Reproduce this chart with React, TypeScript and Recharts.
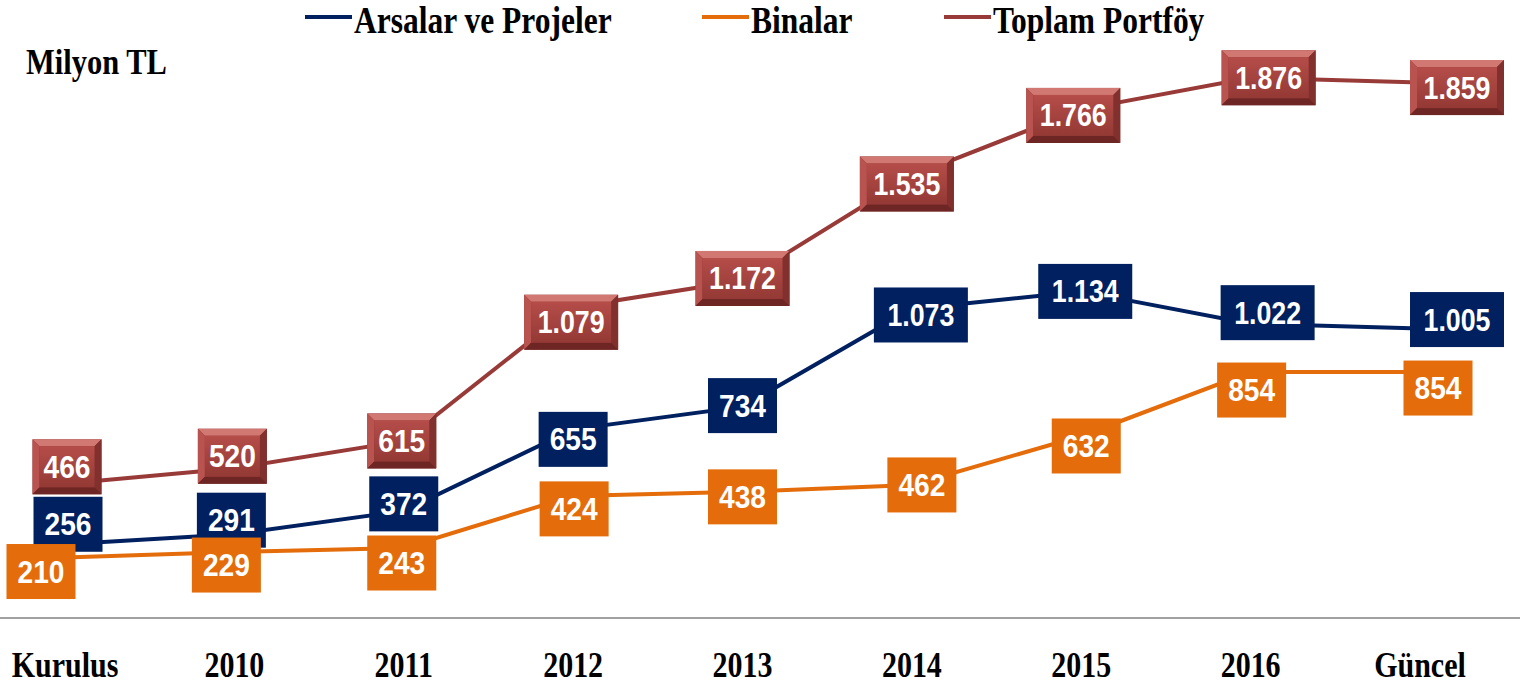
import { LineChart, Line, XAxis, YAxis, LabelList } from "recharts";

const categories = ["Kurulus", "2010", "2011", "2012", "2013", "2014", "2015", "2016", "Güncel"];
const arsalar = [256, 291, 372, 655, 734, 1073, 1134, 1022, 1005];
const binalar = [210, 229, 243, 424, 438, 462, 632, 854, 854];
const toplam = [466, 520, 615, 1079, 1172, 1535, 1766, 1876, 1859];

// hand-placed label nudges [dx, dy], as in the original slide
const arsalarShift = [[3, -20], [-3, -14], [0, -7], [0, 10], [0, -1], [9, 6], [4, 0], [17, -11], [37, -9]];
const binalarShift = [[-24, 14], [-8, 13], [-2, 15], [1, 13], [0, 5], [10, 0], [5, 10], [1, 18], [18, 16]];
const toplamShift = [[2, -17], [-2, -12], [-2, 0], [-2, 15], [0, -2], [-5, 8], [-8, 6], [18, 0], [37, 5]];

const data = categories.map((name, i) => ({
  name,
  arsalar: arsalar[i],
  binalar: binalar[i],
  toplam: toplam[i],
}));

const NAVY = "#002060";
const ORANGE = "#E46C0A";
const RED = "#983a37";
const SERIF = "'Liberation Serif', 'Times New Roman', serif";
const NUM_FONT = "'Liberation Sans Narrow', 'Liberation Sans', Arial, sans-serif";

// 1079 -> "1.079"
const fmt = (v: number) =>
  v >= 1000 ? `${Math.floor(v / 1000)}.${String(v % 1000).padStart(3, "0")}` : String(v);

function BoxLabel(props: any) {
  const { x, y, value, index, fill, shift, bevel } = props;
  const [dx, dy] = shift[index] || [0, 0];
  const text = fmt(value);
  const long = text.length > 3;
  const w = long ? 94 : 69;
  const h = 55;
  const cx = x + dx;
  const cy = y + dy;
  const l = cx - w / 2;
  const t = cy - h / 2;
  const r = l + w;
  const b = t + h;
  const e = 7;
  return (
    <g>
      {bevel ? (
        <g>
          <rect x={l} y={t} width={w} height={h} fill="#8a3230" />
          <polygon points={`${l},${t} ${r},${t} ${r - e},${t + e} ${l + e},${t + e}`} fill="#d27873" />
          <polygon points={`${l},${t} ${l + e},${t + e} ${l + e},${b - e} ${l},${b}`} fill="#b9534f" />
          <polygon points={`${r},${t} ${r},${b} ${r - e},${b - e} ${r - e},${t + e}`} fill="#82302d" />
          <polygon points={`${l},${b} ${l + e},${b - e} ${r - e},${b - e} ${r},${b}`} fill="#6e2624" />
          <rect x={l + e} y={t + e} width={w - 2 * e} height={h - 2 * e} fill="url(#redFace)" />
        </g>
      ) : (
        <rect x={l} y={t} width={w} height={h} fill={fill} />
      )}
      <text
        x={cx}
        y={cy + 11}
        textAnchor="middle"
        fill="#fff"
        fontFamily={NUM_FONT}
        fontWeight="bold"
        fontSize={31}
        textLength={long ? 67 : 47}
        lengthAdjust="spacingAndGlyphs"
      >
        {text}
      </text>
    </g>
  );
}

function CategoryTick({ x, y, payload }: any) {
  return (
    <g transform={`translate(${x},${y + 57}) scale(1,1.2)`}>
      <text textAnchor="middle" fontFamily={SERIF} fontWeight="bold" fontSize={30} fill="#000">
        {payload.value}
      </text>
    </g>
  );
}

const legendItems = [
  { label: "Arsalar ve Projeler", color: NAVY, x: 305 },
  { label: "Binalar", color: ORANGE, x: 702 },
  { label: "Toplam Portföy", color: RED, x: 944 },
];

export default function App() {
  return (
    <div style={{ position: "absolute", left: 0, top: 0, width: 1520, height: 686, background: "#fff" }}>
      <LineChart width={1520} height={686} data={data} margin={{ top: 42, right: 0, left: 0, bottom: 8 }}>
        <defs>
          <linearGradient id="redFace" x1="0" y1="0" x2="0" y2="1">
            <stop offset="0%" stopColor="#b54d49" />
            <stop offset="100%" stopColor="#943935" />
          </linearGradient>
        </defs>
        <XAxis
          dataKey="name"
          padding={{ left: 65, right: 100 }}
          height={60}
          axisLine={{ stroke: "#a0a0a0", strokeWidth: 2 }}
          tickLine={false}
          tickSize={0}
          tick={<CategoryTick />}
          interval={0}
        />
        <YAxis hide domain={[0, 2000]} />
        <Line dataKey="toplam" stroke={RED} strokeWidth={4} dot={false} isAnimationActive={false}>
          <LabelList dataKey="toplam" content={(p: any) => <BoxLabel {...p} shift={toplamShift} bevel />} />
        </Line>
        <Line dataKey="arsalar" stroke={NAVY} strokeWidth={4} dot={false} isAnimationActive={false}>
          <LabelList dataKey="arsalar" content={(p: any) => <BoxLabel {...p} fill={NAVY} shift={arsalarShift} />} />
        </Line>
        <Line dataKey="binalar" stroke={ORANGE} strokeWidth={4} dot={false} isAnimationActive={false}>
          <LabelList dataKey="binalar" content={(p: any) => <BoxLabel {...p} fill={ORANGE} shift={binalarShift} />} />
        </Line>
        <g>
          {legendItems.map((it) => (
            <g key={it.label}>
              <line x1={it.x} x2={it.x + 47} y1={17} y2={17} stroke={it.color} strokeWidth={4} />
              <g transform={`translate(${it.x + 49},33) scale(1,1.18)`}>
                <text fontFamily={SERIF} fontWeight="bold" fontSize={31.5} fill="#000">
                  {it.label}
                </text>
              </g>
            </g>
          ))}
          <g transform="translate(26,74) scale(1,1.2)">
            <text fontFamily={SERIF} fontWeight="bold" fontSize={30.5} fill="#000">
              Milyon TL
            </text>
          </g>
        </g>
      </LineChart>
    </div>
  );
}
